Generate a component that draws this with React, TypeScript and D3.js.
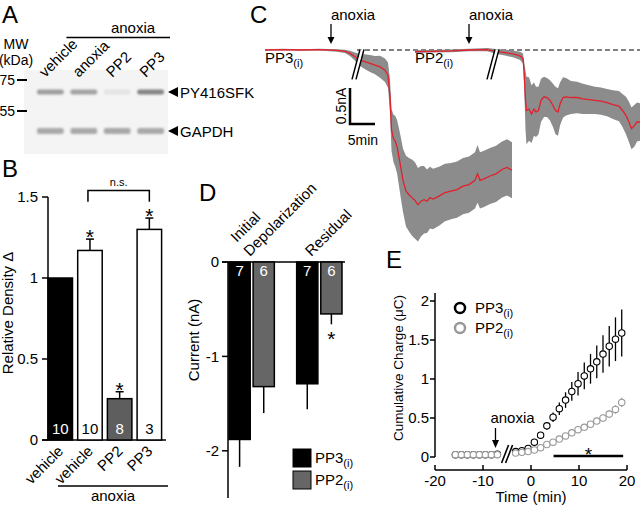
import React from "react";
import * as d3 from "d3";

const FONT = "'Liberation Sans', Arial, Helvetica, sans-serif";

// ---------------- Panel A : western blot ----------------
const blotLanes = ["vehicle", "anoxia", "PP2", "PP3"];
const pyBand = [0.42, 0.4, 0.06, 0.55];
const gapdhBand = [0.36, 0.36, 0.37, 0.36];
const mwLabels = ["75", "55"];
const mwValues = [75, 55];
const bandNames = ["PY416SFK", "GAPDH"];
const bandKda = [66.5, 45];

// ---------------- Panel B : relative density ----------------
const bLabels = ["vehicle", "vehicle", "PP2", "PP3"];
const bValues = [1.0, 1.17, 0.255, 1.3];
const bErrors = [0, 0.07, 0.043, 0.07];
const bN = ["10", "10", "8", "3"];
const bSig = [false, true, true, true];
const bTicks = [0, 0.5, 1, 1.5];
const bTickLabels = ["0", "0.5", "1", "1.5"];
const bBracket = [1.47, 1.54];

// ---------------- Panel C : current traces ----------------
const c1Time = [0, 3.6, 7.2, 10.8, 14.4, 16, 17, 18, 19, 20, 21, 22, 23, 24, 24.6, 25, 25.3, 25.7, 26, 26.4, 26.8, 27.1, 27.6, 28.2, 28.8, 29.4, 30, 30.6, 31.2, 31.8, 32.4, 33, 33.6, 34.8, 36, 37.2, 38.4, 39.6, 40.8, 42, 42.5, 43, 43.8, 45, 46.2, 47.4, 48.4, 49.4];
const c1Mean = [0, 0.006, 0, 0.006, -0.006, -0.018, -0.047, -0.093, -0.14, -0.163, -0.187, -0.21, -0.233, -0.28, -0.35, -0.64, -1.11, -1.23, -1.26, -1.34, -1.49, -1.61, -1.81, -1.96, -2.01, -2.05, -2.09, -2.15, -2.1, -2.08, -2.1, -2.05, -2.07, -2.03, -1.98, -1.96, -1.94, -1.89, -1.87, -1.81, -1.72, -1.81, -1.79, -1.75, -1.72, -1.66, -1.63, -1.67];
const c1Sem = [0.012, 0.012, 0.012, 0.012, 0.018, 0.023, 0.035, 0.058, 0.082, 0.105, 0.117, 0.128, 0.152, 0.163, 0.175, 0.23, 0.29, 0.33, 0.35, 0.37, 0.4, 0.42, 0.44, 0.49, 0.51, 0.53, 0.53, 0.51, 0.49, 0.47, 0.44, 0.43, 0.42, 0.41, 0.4, 0.39, 0.39, 0.39, 0.39, 0.39, 0.4, 0.39, 0.39, 0.39, 0.39, 0.39, 0.39, 0.39];
const c2Time = [30, 33.6, 37.2, 40.8, 44.4, 46.6, 48, 49.8, 51, 51.6, 51.8, 52.1, 52.3, 52.8, 53.3, 53.8, 54.2, 54.7, 55.2, 55.8, 56.4, 57, 57.6, 58.1, 58.6, 59, 59.6, 60.2, 61.2, 62.4, 63.6, 64.8, 66, 67.2, 68.4, 69.6, 70.8, 71.5, 72.2, 72.8, 73.3, 73.9, 74.4, 75];
const c2Mean = [-0.023, -0.018, -0.012, 0, 0.006, -0.023, -0.035, -0.058, -0.082, -0.117, -0.29, -0.7, -0.84, -0.82, -0.89, -0.82, -0.86, -0.84, -0.7, -0.65, -0.66, -0.7, -0.77, -0.84, -0.86, -0.75, -0.66, -0.65, -0.66, -0.66, -0.68, -0.69, -0.7, -0.71, -0.73, -0.76, -0.78, -0.84, -0.91, -1.0, -1.09, -1.05, -1.0, -1.0];
const c2Sem = [0.018, 0.018, 0.018, 0.018, 0.023, 0.035, 0.041, 0.047, 0.058, 0.07, 0.14, 0.41, 0.47, 0.44, 0.4, 0.37, 0.35, 0.33, 0.3, 0.28, 0.27, 0.28, 0.3, 0.33, 0.33, 0.3, 0.28, 0.26, 0.23, 0.22, 0.21, 0.2, 0.19, 0.19, 0.19, 0.2, 0.21, 0.23, 0.26, 0.28, 0.29, 0.29, 0.27, 0.26];
const cTraceNames = ["PP3", "PP2"];
const cAnoxiaTime = [13.2, 40.8];
const cBreakTime = [18.6, 45.6];

// ---------------- Panel D : current bars ----------------
const dGroups = ["Initial Depolarization", "Residual"];
const dSeries = ["PP3", "PP2"];
const dPP3Mean = [-1.88, -1.29];
const dPP3Err = [0.29, 0.27];
const dPP2Mean = [-1.32, -0.55];
const dPP2Err = [0.28, 0.11];
const dPP3N = ["7", "7"];
const dPP2N = ["6", "6"];
const dTicks = [0, -1, -2];

// ---------------- Panel E : cumulative charge ----------------
const eTime = [-15.75, -14.5, -13.25, -12, -10.75, -9.5, -8.25, -7, -3.2, -1.9, -0.6, 0.7, 2, 3.3, 4.6, 5.9, 7.2, 8.5, 9.8, 11.1, 12.4, 13.7, 15, 16.3, 17.6, 18.9];
const ePP3 = [0.03, 0.03, 0.03, 0.03, 0.03, 0.03, 0.03, 0.035, 0.07, 0.08, 0.11, 0.19, 0.28, 0.4, 0.51, 0.62, 0.73, 0.84, 0.94, 1.04, 1.13, 1.22, 1.32, 1.42, 1.51, 1.59];
const ePP3Err = [0.01, 0.01, 0.01, 0.01, 0.01, 0.01, 0.01, 0.01, 0.01, 0.01, 0.02, 0.03, 0.04, 0.05, 0.06, 0.08, 0.1, 0.12, 0.15, 0.17, 0.19, 0.21, 0.24, 0.26, 0.28, 0.3];
const ePP2 = [0.03, 0.03, 0.03, 0.03, 0.03, 0.03, 0.03, 0.03, 0.05, 0.06, 0.07, 0.09, 0.12, 0.16, 0.19, 0.23, 0.27, 0.31, 0.35, 0.38, 0.42, 0.46, 0.5, 0.55, 0.61, 0.7];
const ePP2Err = [0.005, 0.005, 0.005, 0.005, 0.005, 0.005, 0.005, 0.005, 0.005, 0.005, 0.01, 0.01, 0.01, 0.01, 0.015, 0.02, 0.02, 0.025, 0.03, 0.03, 0.035, 0.04, 0.045, 0.05, 0.055, 0.06];
const eXTicks = [-20, -10, 0, 10, 20];
const eYTicks = [0, 0.5, 1, 1.5, 2];
const eYTickLabels = ["0", "0.5", "1", "1.5", "2"];
const eSigRange = [4.7, 19.2];
const eAnoxiaTime = -7.4;

const RED = "#e3202b";
const BAND = "#8c8c8c";
const TXT = 15;
const TICK = 15;

function Sub({ base, sub }: { base: string; sub: string }) {
  return (
    <>
      <tspan>{base}</tspan>
      <tspan dy={4} fontSize={11}>{sub}</tspan>
    </>
  );
}

function PanelA() {
  const x = d3.scaleBand<string>().domain(blotLanes).range([37, 164]).paddingInner(0.2);
  const y = d3.scaleLog().domain([75, 55]).range([80, 111]);
  const grey = d3.scaleLinear<string>().domain([0, 1]).range(["#f0f0f0", "#2a2a2a"]);
  const bw = x.bandwidth();
  return (
    <g>
      <text x={2} y={23} fontSize={24}>A</text>
      <rect x={24} y={70} width={144} height={84} fill="#f4f4f4" />
      {blotLanes.map((l, i) => (
        <g key={l} filter="url(#blur)">
          <rect x={x(l)!} y={y(bandKda[0]) - 2.5} width={bw} height={5} rx={2} fill={grey(pyBand[i])} />
          <rect x={x(l)!} y={y(bandKda[1]) - 3} width={bw} height={6} rx={2} fill={grey(gapdhBand[i])} />
        </g>
      ))}
      {blotLanes.map((l) => {
        const cx = x(l)! + bw / 2;
        return (
          <text key={l} transform={`translate(${cx - 5},78) rotate(-45)`} fontSize={TXT}>{l}</text>
        );
      })}
      <text x={133} y={33} fontSize={TXT} textAnchor="middle">anoxia</text>
      <line x1={x("anoxia")! - 4} x2={x("PP3")! + bw + 6} y1={37.5} y2={37.5} stroke="#000" strokeWidth={1.5} />
      <text x={16} y={49} fontSize={14} textAnchor="middle">MW</text>
      <text x={16} y={65} fontSize={14} textAnchor="middle">(kDa)</text>
      {mwValues.map((v, i) => (
        <g key={v}>
          <text x={15} y={y(v) + 5} fontSize={14} textAnchor="end">{mwLabels[i]}</text>
          <line x1={17} x2={27} y1={y(v)} y2={y(v)} stroke="#000" strokeWidth={2} />
        </g>
      ))}
      {bandKda.map((k, i) => (
        <g key={k}>
          <polygon points={`168,${y(k)} 178,${y(k) - 5} 178,${y(k) + 5}`} fill="#000" />
          <text x={180} y={y(k) + 5.5} fontSize={TXT}>{bandNames[i]}</text>
        </g>
      ))}
    </g>
  );
}

function PanelB() {
  const idx = bValues.map((_, i) => String(i));
  const x = d3.scaleBand<string>().domain(idx).range([48, 161.6]).paddingInner(0.175).paddingOuter(0);
  const y = d3.scaleLinear().domain([0, 1.5]).range([440, 197]);
  const fills = ["#000", "#fff", "#5e5e5e", "#fff"];
  const numFill = ["#fff", "#000", "#fff", "#000"];
  const bw = x.bandwidth();
  const c = (i: number) => x(String(i))! + bw / 2;
  return (
    <g>
      <text x={2} y={177} fontSize={24}>B</text>
      <line x1={48} x2={48} y1={y(1.5)} y2={y(0)} stroke="#000" strokeWidth={1.5} />
      <line x1={42} x2={166} y1={y(0)} y2={y(0)} stroke="#000" strokeWidth={1.5} />
      {bTicks.map((t, i) => (
        <g key={t}>
          <line x1={42} x2={48} y1={y(t)} y2={y(t)} stroke="#000" strokeWidth={1.5} />
          <text x={38} y={y(t)} dy="0.35em" fontSize={TICK} textAnchor="end">{bTickLabels[i]}</text>
        </g>
      ))}
      {bValues.map((v, i) => (
        <g key={i}>
          {bErrors[i] > 0 && (
            <line x1={c(i)} x2={c(i)} y1={y(v)} y2={y(v + bErrors[i])} stroke="#000" strokeWidth={1.5} />
          )}
          {bErrors[i] > 0 && (
            <line x1={c(i) - 4} x2={c(i) + 4} y1={y(v + bErrors[i])} y2={y(v + bErrors[i])} stroke="#000" strokeWidth={1.5} />
          )}
          <rect x={x(String(i))!} y={y(v)} width={bw} height={y(0) - y(v)} fill={fills[i]} stroke="#000" strokeWidth={1.5} />
          <text x={c(i)} y={434} fontSize={TXT} textAnchor="middle" fill={numFill[i]}>{bN[i]}</text>
          {bSig[i] && (
            <text x={c(i)} y={y(v + bErrors[i]) + 5} fontSize={21} textAnchor="middle">*</text>
          )}
          <text transform={`translate(${c(i) + 4},452) rotate(-45)`} fontSize={TXT} textAnchor="end">{bLabels[i]}</text>
        </g>
      ))}
      <path d={`M${c(1) - 2},${y(bBracket[0])} V${y(bBracket[1])} H${c(3)} V${y(bBracket[0])}`} fill="none" stroke="#000" strokeWidth={1.5} />
      <text x={(c(1) + c(3)) / 2 - 1} y={y(bBracket[1]) - 5} fontSize={11} textAnchor="middle">n.s.</text>
      <line x1={58} x2={168} y1={486} y2={486} stroke="#000" strokeWidth={1.5} />
      <text x={113} y={501} fontSize={TXT} textAnchor="middle">anoxia</text>
      <text transform={`translate(13,313) rotate(-90)`} fontSize={TXT} textAnchor="middle">Relative Density Δ</text>
    </g>
  );
}

type Pt = { t: number; m: number; s: number };

function PanelC() {
  const x = d3.scaleLinear().domain([0, 75]).range([265, 640]);
  const y = d3.scaleLinear().domain([-2.5, 0]).range([230, 50]);
  const traces = [
    { t: c1Time, m: c1Mean, s: c1Sem },
    { t: c2Time, m: c2Mean, s: c2Sem },
  ];
  const barH = y(0) - y(0.5);
  const barW = x(5) - x(0);
  return (
    <g>
      <text x={250} y={23} fontSize={24}>C</text>
      <line x1={x(18.4)} x2={640} y1={y(0)} y2={y(0)} stroke="#000" strokeWidth={1} strokeDasharray="5,3" />
      {traces.map((tr, k) => {
        const pts: Pt[] = tr.t.map((t, i) => ({ t, m: tr.m[i], s: tr.s[i] }));
        const a = d3
          .area<Pt>()
          .x((d) => x(d.t))
          .y0((d) => y(d.m - d.s))
          .y1((d) => y(d.m + d.s));
        const l = d3
          .line<Pt>()
          .x((d) => x(d.t))
          .y((d) => y(d.m));
        return (
          <g key={k}>
            <path d={a(pts)!} fill={BAND} />
            <path d={l(pts)!} fill="none" stroke={RED} strokeWidth={1.3} />
          </g>
        );
      })}
      {cBreakTime.map((bt) => {
        const cx = x(bt);
        const cy = y(-0.2);
        return (
          <g key={bt}>
            <polygon points={`${cx - 6},${cy + 15} ${cx + 2},${cy - 15} ${cx + 6},${cy - 15} ${cx - 2},${cy + 15}`} fill="#fff" />
            <line x1={cx - 6} y1={cy + 15} x2={cx + 2} y2={cy - 15} stroke="#000" strokeWidth={1.5} />
            <line x1={cx - 2} y1={cy + 15} x2={cx + 6} y2={cy - 15} stroke="#000" strokeWidth={1.5} />
          </g>
        );
      })}
      {cAnoxiaTime.map((at) => (
        <g key={at}>
          <text x={x(at) + 22} y={20} fontSize={TXT} textAnchor="middle">anoxia</text>
          <line x1={x(at)} x2={x(at)} y1={24} y2={40} stroke="#000" strokeWidth={1.3} />
          <polygon points={`${x(at) - 3.5},${37} ${x(at) + 3.5},${37} ${x(at)},${44}`} fill="#000" />
        </g>
      ))}
      {cTraceNames.map((n, k) => (
        <text key={n} x={x(traces[k].t[0])} y={63} fontSize={TXT}>
          <Sub base={n} sub="(i)" />
        </text>
      ))}
      <path d={`M350,${124 - barH} V124 H${350 + barW}`} fill="none" stroke="#000" strokeWidth={2.5} />
      <text transform={`translate(346,${124 - barH / 2}) rotate(-90)`} fontSize={14} textAnchor="middle">0.5nA</text>
      <text x={363} y={145} fontSize={14} textAnchor="middle">5min</text>
    </g>
  );
}

function PanelD() {
  const x0 = d3.scaleBand<string>().domain(dGroups).range([229, 342]).paddingInner(0.33);
  const x1 = d3.scaleBand<string>().domain(dSeries).range([0, x0.bandwidth()]).paddingInner(0.12);
  const y = d3.scaleLinear().domain([-2.5, 0]).range([498, 262]);
  const series = [
    { name: "PP3", m: dPP3Mean, e: dPP3Err, n: dPP3N, fill: "#000" },
    { name: "PP2", m: dPP2Mean, e: dPP2Err, n: dPP2N, fill: "#666" },
  ];
  const bw = x1.bandwidth();
  const g0 = x0(dGroups[0])! + x0.bandwidth() / 2;
  const g1 = x0(dGroups[1])! + x0.bandwidth() / 2;
  const starX = x0(dGroups[1])! + x1("PP2")! + bw / 2;
  return (
    <g>
      <text x={199} y={201} fontSize={24}>D</text>
      <line x1={228} x2={228} y1={y(0)} y2={y(-2.5)} stroke="#000" strokeWidth={1.5} />
      <line x1={222} x2={345} y1={y(0)} y2={y(0)} stroke="#000" strokeWidth={1.5} />
      {dTicks.map((t) => (
        <g key={t}>
          <line x1={222} x2={228} y1={y(t)} y2={y(t)} stroke="#000" strokeWidth={1.5} />
          <text x={219} y={y(t)} dy="0.35em" fontSize={TICK} textAnchor="end">{String(t)}</text>
        </g>
      ))}
      {series.map((s) =>
        dGroups.map((g, i) => {
          const bx = x0(g)! + x1(s.name)!;
          const cx = bx + bw / 2;
          return (
            <g key={s.name + g}>
              <line x1={cx} x2={cx} y1={y(s.m[i])} y2={y(s.m[i] - s.e[i])} stroke="#000" strokeWidth={1.5} />
              <rect x={bx} y={y(0)} width={bw} height={y(s.m[i]) - y(0)} fill={s.fill} stroke="#000" strokeWidth={1.5} />
              <text x={cx} y={276} fontSize={TXT} textAnchor="middle" fill="#fff">{s.n[i]}</text>
            </g>
          );
        })
      )}
      <text x={starX} y={y(dPP2Mean[1] - dPP2Err[1]) + 22} fontSize={21} textAnchor="middle">*</text>
      <text transform={`translate(${g0 - 15},243) rotate(-45)`} fontSize={TXT}>Initial</text>
      <text transform={`translate(${g0 - 2},257) rotate(-45)`} fontSize={TXT}>Depolarization</text>
      <text transform={`translate(${g1 - 8},257) rotate(-45)`} fontSize={TXT}>Residual</text>
      <text transform={`translate(199,340) rotate(-90)`} fontSize={TXT} textAnchor="middle">Current (nA)</text>
      {series.map((s, k) => (
        <g key={s.name}>
          <rect x={293} y={449 + k * 22} width={18} height={18} fill={s.fill} stroke="#000" strokeWidth={1} />
          <text x={315} y={463 + k * 22} fontSize={TXT}>
            <Sub base={s.name} sub="(i)" />
          </text>
        </g>
      ))}
    </g>
  );
}

function PanelE() {
  const x = d3.scaleLinear().domain([-20, 20]).range([435, 627]);
  const y = d3.scaleLinear().domain([0, 2]).range([457, 301]);
  const series = [
    { v: ePP3, e: ePP3Err, color: "#000" },
    { v: ePP2, e: ePP2Err, color: "#999" },
  ];
  const breakX = x(-5.3);
  const ax = x(eAnoxiaTime);
  return (
    <g>
      <text x={386} y={268} fontSize={24}>E</text>
      <line x1={435} x2={435} y1={y(2) - 8} y2={y(0)} stroke="#000" strokeWidth={1.5} />
      {eYTicks.map((t, i) => (
        <g key={t}>
          <line x1={430} x2={435} y1={y(t)} y2={y(t)} stroke="#000" strokeWidth={1.5} />
          <text x={429} y={y(t)} dy="0.35em" fontSize={TICK} textAnchor="end">{eYTickLabels[i]}</text>
        </g>
      ))}
      <line x1={x(-20)} x2={x(20)} y1={470} y2={470} stroke="#000" strokeWidth={1.5} />
      {eXTicks.map((t) => (
        <g key={t}>
          <line x1={x(t)} x2={x(t)} y1={465} y2={470} stroke="#000" strokeWidth={1.5} />
          <text x={x(t)} y={486} fontSize={TICK} textAnchor="middle">{String(t)}</text>
        </g>
      ))}
      <text x={x(0)} y={502} fontSize={TXT} textAnchor="middle">Time (min)</text>
      <text transform={`translate(403,368) rotate(-90)`} fontSize={13.5} textAnchor="middle">Cumulative Charge (μC)</text>
      {series.map((s, k) => (
        <g key={k}>
          {eTime.map((t, i) => (
            <g key={i}>
              <line x1={x(t)} x2={x(t)} y1={y(s.v[i] - s.e[i])} y2={y(s.v[i] + s.e[i])} stroke={s.color} strokeWidth={1.3} />
              <circle cx={x(t)} cy={y(s.v[i])} r={3.2} fill="#fff" stroke={s.color} strokeWidth={1.1} />
            </g>
          ))}
        </g>
      ))}
      <polygon points={`${breakX - 4},463 ${breakX + 3},445 ${breakX + 7},445 ${breakX},463`} fill="#fff" />
      <line x1={breakX - 4} y1={463} x2={breakX + 3} y2={445} stroke="#000" strokeWidth={1.6} />
      <line x1={breakX} y1={463} x2={breakX + 7} y2={445} stroke="#000" strokeWidth={1.6} />
      <text x={ax + 17} y={423} fontSize={TXT} textAnchor="middle">anoxia</text>
      <line x1={ax} x2={ax} y1={428} y2={443} stroke="#000" strokeWidth={1.3} />
      <polygon points={`${ax - 3.5},440 ${ax + 3.5},440 ${ax},448`} fill="#000" />
      <line x1={x(eSigRange[0])} x2={x(eSigRange[1])} y1={456} y2={456} stroke="#000" strokeWidth={2.5} />
      <text x={(x(eSigRange[0]) + x(eSigRange[1])) / 2} y={461} fontSize={19} textAnchor="middle">*</text>
      <circle cx={460} cy={308} r={5} fill="#fff" stroke="#000" strokeWidth={2.5} />
      <text x={475} y={313} fontSize={TXT}><Sub base="PP3" sub="(i)" /></text>
      <circle cx={460} cy={328} r={5} fill="#fff" stroke="#999" strokeWidth={2.5} />
      <text x={475} y={333} fontSize={TXT}><Sub base="PP2" sub="(i)" /></text>
    </g>
  );
}

export default function App() {
  return (
    <svg
      width={640}
      height={506}
      viewBox="0 0 640 506"
      style={{ position: "absolute", left: 0, top: 0, background: "#fff" }}
      fontFamily={FONT}
    >
      <defs>
        <filter id="blur" x="-20%" y="-100%" width="140%" height="300%">
          <feGaussianBlur stdDeviation={1} />
        </filter>
      </defs>
      <rect width={640} height={506} fill="#fff" />
      <PanelA />
      <PanelB />
      <PanelC />
      <PanelD />
      <PanelE />
    </svg>
  );
}
